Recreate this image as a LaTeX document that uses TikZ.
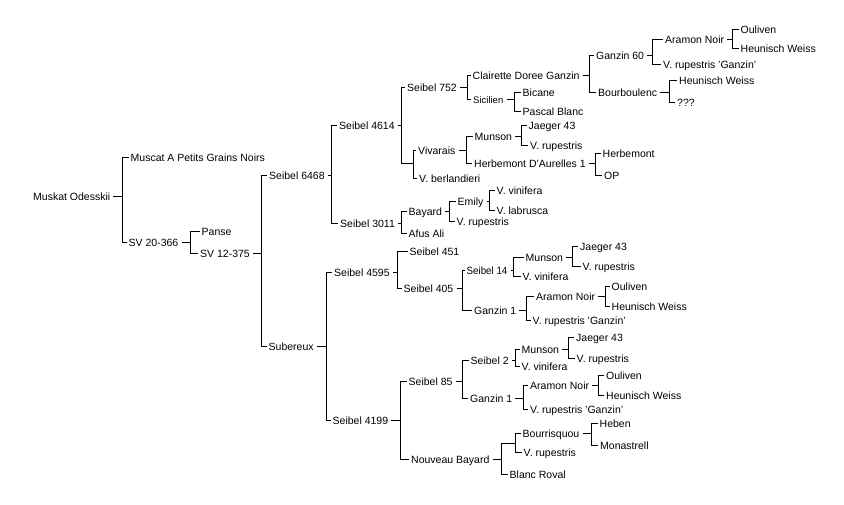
\documentclass[tikz,border=0pt]{standalone}
\usepackage{fontspec}
\setmainfont{Liberation Sans}
\begin{document}
\begin{tikzpicture}[x=1pt,y=-1pt,
  lbl/.style={anchor=west,inner sep=0pt,text height=8pt,text depth=0pt,font=\fontsize{10.5}{12}\selectfont},
  smlbl/.style={lbl,font=\fontsize{9.5}{11}\selectfont},
  conn/.style={line width=0.9pt,black}]
\fill[white] (0,0) rectangle (844,504);
\useasboundingbox (0,0) rectangle (844,504);
% labels
\node[lbl] (mo) at (33,196) {Muskat Odesskii};
\node[lbl] (mp) at (130.5,157) {Muscat A Petits Grains Noirs};
\node[lbl] (sv20) at (128.5,242) {SV 20-366};
\node[lbl] (pa) at (201.5,231) {Panse};
\node[lbl] (sv12) at (200,253) {SV 12-375};
\node[lbl] (s6468) at (269,175) {Seibel 6468};
\node[lbl] (s4614) at (339,125) {Seibel 4614};
\node[lbl] (s752) at (407,87) {Seibel 752};
\node[lbl] (cdg) at (472.5,75) {Clairette Doree Ganzin};
\node[lbl] (g60) at (596,55) {Ganzin 60};
\node[lbl] (an1) at (665,39) {Aramon Noir};
\node[lbl] (ou1) at (740.5,29.5) {Ouliven};
\node[lbl] (hw1) at (740.5,48.5) {Heunisch Weiss};
\node[lbl] (vrg1) at (663,64) {V. rupestris 'Ganzin'};
\node[lbl] (bo) at (598,92.5) {Bourboulenc};
\node[lbl] (hw2) at (679,80.5) {Heunisch Weiss};
\node[lbl] (qq) at (677,102) {???};
\node[smlbl] (sic) at (473,99) {Sicilien};
\node[lbl] (bi) at (522.5,92) {Bicane};
\node[lbl] (pb) at (522.5,111) {Pascal Blanc};
\node[lbl] (viv) at (418,150.5) {Vivarais};
\node[lbl] (mu1) at (474.5,136.5) {Munson};
\node[lbl] (j1) at (528.5,125) {Jaeger 43};
\node[lbl] (vr1) at (530,145) {V. rupestris};
\node[lbl] (hda) at (474,163.5) {Herbemont D'Aurelles 1};
\node[lbl] (he) at (602.5,153.5) {Herbemont};
\node[lbl] (op) at (604,175) {OP};
\node[lbl] (vb) at (419,178) {V. berlandieri};
\node[lbl] (s3011) at (340,223) {Seibel 3011};
\node[lbl] (ba) at (408.5,211.5) {Bayard};
\node[lbl] (em) at (457.5,201) {Emily};
\node[lbl] (vv1) at (496.5,190.5) {V. vinifera};
\node[lbl] (vl) at (496.5,210.5) {V. labrusca};
\node[lbl] (vr2) at (456.5,221.5) {V. rupestris};
\node[lbl] (af) at (408.5,233) {Afus Ali};
\node[lbl] (sub) at (268.5,346) {Subereux};
\node[lbl] (s4595) at (334,272) {Seibel 4595};
\node[lbl] (s451) at (409.5,251.5) {Seibel 451};
\node[lbl] (s405) at (403.5,288) {Seibel 405};
\node[lbl] (s14) at (466.5,270) {\scalebox{0.93}[1]{Seibel 14}};
\node[lbl] (mu2) at (525.5,257.5) {Munson};
\node[lbl] (j2) at (580,246) {Jaeger 43};
\node[lbl] (vr3) at (582.5,266.5) {V. rupestris};
\node[lbl] (vv2) at (522.5,276) {V. vinifera};
\node[lbl] (g1a) at (474,310) {Ganzin 1};
\node[lbl] (an2) at (536,296.5) {Aramon Noir};
\node[lbl] (ou2) at (611.5,286.5) {Ouliven};
\node[lbl] (hw3) at (611.5,306) {Heunisch Weiss};
\node[lbl] (vrg2) at (532.5,320) {V. rupestris 'Ganzin'};
\node[lbl] (s4199) at (332.5,420) {Seibel 4199};
\node[lbl] (s85) at (408.5,381.5) {Seibel 85};
\node[lbl] (s2) at (470.5,360) {Seibel 2};
\node[lbl] (mu3) at (521.5,349.5) {Munson};
\node[lbl] (j3) at (576,337.5) {Jaeger 43};
\node[lbl] (vr4) at (576.5,358) {V. rupestris};
\node[lbl] (vv3) at (521.5,366.5) {V. vinifera};
\node[lbl] (g1b) at (470,398.5) {Ganzin 1};
\node[lbl] (an3) at (530,385.5) {Aramon Noir};
\node[lbl] (ou3) at (606,375) {Ouliven};
\node[lbl] (hw4) at (606,395) {Heunisch Weiss};
\node[lbl] (vrg3) at (530,409) {V. rupestris 'Ganzin'};
\node[lbl] (nb) at (411,459) {Nouveau Bayard};
\node[lbl] (bq) at (522.5,433.5) {Bourrisquou};
\node[lbl] (hb) at (599.5,423.5) {Heben};
\node[lbl] (mn) at (600,445) {Monastrell};
\node[lbl] (vr5) at (523.5,452.5) {V. rupestris};
\node[lbl] (br) at (509.5,474) {Blanc Roval};
% bar coordinates
\foreach \p/\bx in {mo/122,sv20/190.5,sv12/261.5,s6468/331.5,s4614/401.5,s752/467,
  cdg/589.5,g60/652,an1/732.5,bo/669,sic/514,viv/466,mu1/521.5,hda/595,
  s3011/401,ba/449,em/489,sub/326.5,s4595/397,s405/462.5,s14/513,mu2/572.5,
  g1a/526,an2/605,s4199/400.5,s85/462.5,s2/515.5,mu3/568.5,g1b/523.5,
  an3/598.5,nb/501.5,bq/591.5}
  \coordinate (\p-b) at (\bx,0 |- \p.west);
\coordinate (hv1-b) at (413,163.5);
\coordinate (hv2-b) at (515,443.5);
% ticks
\foreach \p in {mo,sv20,sv12,s6468,s4614,s752,cdg,g60,an1,bo,sic,viv,mu1,hda,
  s3011,ba,em,sub,s4595,s405,s14,mu2,g1a,an2,s4199,s85,s2,mu3,g1b,an3,nb,bq}
  \draw[conn] ([xshift=3pt]\p.east) -- (\p-b);
% unnamed crosses
\draw[conn] (hv1-b) -| (s4614-b);
\draw[conn] (hv2-b) -| (nb-b);
% stubs
\foreach \p/\c in {mo/mp,mo/sv20,sv20/pa,sv20/sv12,sv12/s6468,sv12/sub,
  s6468/s4614,s6468/s3011,s4614/s752,s752/cdg,s752/sic,cdg/g60,cdg/bo,
  g60/an1,g60/vrg1,an1/ou1,an1/hw1,bo/hw2,bo/qq,sic/bi,sic/pb,
  hv1/viv,hv1/vb,viv/mu1,viv/hda,mu1/j1,mu1/vr1,hda/he,hda/op,
  s3011/ba,s3011/af,ba/em,ba/vr2,em/vv1,em/vl,
  sub/s4595,sub/s4199,s4595/s451,s4595/s405,s405/s14,s405/g1a,
  s14/mu2,s14/vv2,mu2/j2,mu2/vr3,g1a/an2,g1a/vrg2,an2/ou2,an2/hw3,
  s4199/s85,s4199/nb,s85/s2,s85/g1b,s2/mu3,s2/vv3,mu3/j3,mu3/vr4,
  g1b/an3,g1b/vrg3,an3/ou3,an3/hw4,nb/br,hv2/bq,hv2/vr5,bq/hb,bq/mn}
  \draw[conn] ([xshift=-2pt]\c.west) -| (\p-b);
\end{tikzpicture}
\end{document}
